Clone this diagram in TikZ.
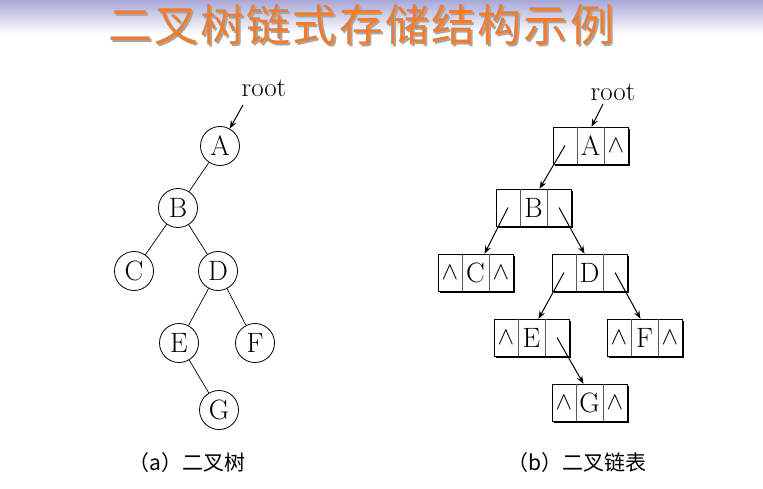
\documentclass[tikz,border=0pt]{standalone}
\usepackage{fontspec}
\newfontfamily\cjk{Noto Sans CJK SC}
\newfontfamily\cjktitle[LetterSpace=5]{Noto Sans CJK SC}
\usetikzlibrary{arrows.meta,shadows,calc}
\definecolor{lav}{RGB}{168,168,216}
\definecolor{titleorange}{RGB}{236,125,50}
\newcommand\llist[7]{%
  \node[boxo] (#1) at (#2+37.5,#3+18.5) {};
  \node[cellc,minimum width=24pt] (#1-l) at (#2+12,#3+18.5) {#4};
  \node[cellc,minimum width=27pt] (#1-m) at (#2+37.5,#3+18.5) {#5};
  \node[cellc,minimum width=24pt] (#1-r) at (#2+63,#3+18.5) {#6};
  \draw[divider] (#1-l.north east) -- (#1-l.south east);
  \draw[divider] (#1-m.north east) -- (#1-m.south east);
}
\begin{document}
\begin{tikzpicture}[x=1pt,y=-1pt,
  circ/.style={circle,draw,line width=0.8pt,minimum size=39pt,inner sep=0pt,
    font=\fontsize{28}{28}\selectfont},
  edge/.style={line width=0.7pt},
  boxo/.style={rectangle,draw,line width=0.9pt,fill=white,minimum width=75pt,
    minimum height=37pt,inner sep=0pt,
    drop shadow={shadow xshift=1.6pt,shadow yshift=-1.6pt,opacity=1,fill=black}},
  cellc/.style={rectangle,minimum height=37pt,inner sep=0pt,
    font=\fontsize{28}{28}\selectfont},
  divider/.style={line width=0.6pt,black!65},
  arr/.style={line width=1pt,-{Stealth[length=8pt,width=6pt]}},
  rootst/.style={font=\fontsize{27}{27}\selectfont,inner sep=0pt},
  captext/.style={font=\cjk\fontsize{21}{21}\selectfont,inner sep=0pt},
  ttl/.style={font=\cjktitle\fontsize{44}{44}\selectfont,inner sep=0pt}
]
\useasboundingbox (0,0) rectangle (763,489);
\fill[white] (0,0) rectangle (763,489);
\shade[top color=lav,bottom color=white] (0,0) rectangle (763,34);

% title
\node[ttl,text=black!35] (ttlshadow) at (363,27) {二叉树链式存储结构示例};
\node[ttl,text=titleorange] (ttl) at (361,25) {二叉树链式存储结构示例};

% (a) binary tree
\node[rootst] (rootL) at (264,88) {root};
\node[circ] (A) at (220,146) {A};
\node[circ] (B) at (178,208) {B};
\node[circ] (C) at (134,271) {C};
\node[circ] (D) at (218,271) {D};
\node[circ] (E) at (179,343) {E};
\node[circ] (F) at (255,343) {F};
\node[circ] (G) at (219,410) {G};
\coordinate (rL) at (243,105);
\draw[arr] (rL) -- (A);
\draw[edge] (A) -- (B);
\draw[edge] (B) -- (C);
\draw[edge] (B) -- (D);
\draw[edge] (D) -- (E);
\draw[edge] (D) -- (F);
\draw[edge] (E) -- (G);

% (b) linked list
\node[rootst] (rootR) at (613,92) {root};
\llist{LA}{553}{127}{}{A}{$\wedge$}{}
\llist{LB}{496}{189}{}{B}{}{}
\llist{LC}{438}{254}{$\wedge$}{C}{$\wedge$}{}
\llist{LD}{552}{254}{}{D}{}{}
\llist{LE}{494}{319}{$\wedge$}{E}{}{}
\llist{LF}{607}{319}{$\wedge$}{F}{$\wedge$}{}
\llist{LG}{552}{384}{$\wedge$}{G}{$\wedge$}{}
\coordinate (rR) at (603,104);
\draw[arr] (rR) -- ([xshift=1pt]LA-m.north);
\draw[arr] (LA-l.center) -- ([xshift=6pt]LB-m.north);
\draw[arr] (LB-l.center) -- ([xshift=9pt]LC-m.north);
\draw[arr] (LB-r.center) -- ([xshift=-5pt]LD-m.north);
\draw[arr] (LD-l.center) -- ([xshift=7pt]LE-m.north);
\draw[arr] (LD-r.center) -- ([xshift=-4pt]LF-m.north);
\draw[arr] (LE-r.center) -- ([xshift=-6pt]LG-m.north);

% captions
\node[captext] (capa) at (187,463) {（a）二叉树};
\node[captext] (capb) at (577,463) {（b）二叉链表};
\end{tikzpicture}
\end{document}
